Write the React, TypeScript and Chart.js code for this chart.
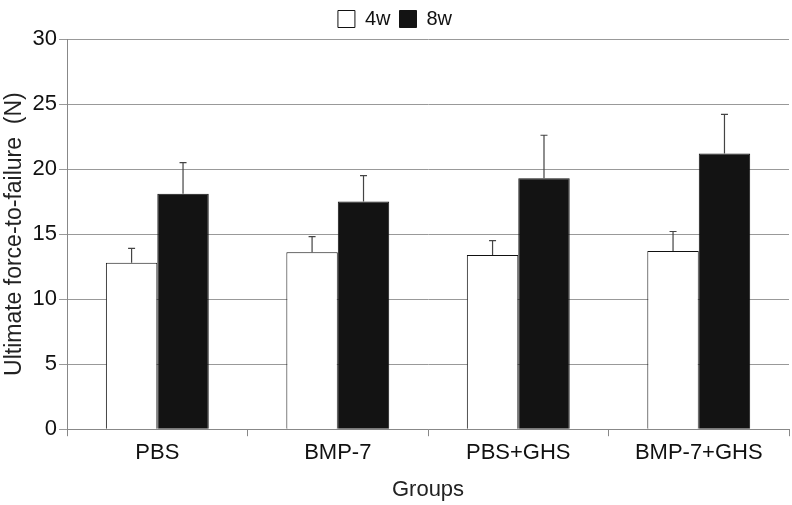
import React, { useEffect, useRef } from "react";
import { Chart, registerables } from "chart.js";

Chart.register(...registerables);

const categories = ["PBS", "BMP-7", "PBS+GHS", "BMP-7+GHS"];
const seriesNames = ["4w", "8w"];
const values4w = [12.8, 13.6, 13.4, 13.7];
const values8w = [18.1, 17.5, 19.3, 21.2];
const errors4w = [1.1, 1.2, 1.1, 1.5];
const errors8w = [2.4, 2.0, 3.3, 3.0];
const yTicks = [0, 5, 10, 15, 20, 25, 30];

const errorBarPlugin = {
  id: "errorBars",
  afterDatasetsDraw(chart: any) {
    const ctx = chart.ctx;
    const yScale = chart.scales.y;
    chart.data.datasets.forEach((ds: any, di: number) => {
      const meta = chart.getDatasetMeta(di);
      if (meta.hidden) return;
      meta.data.forEach((el: any, i: number) => {
        const v = ds.data[i];
        const e = ds.errors[i];
        const x = el.x;
        const y0 = yScale.getPixelForValue(v);
        const y1 = yScale.getPixelForValue(v + e);
        ctx.save();
        ctx.strokeStyle = "#444";
        ctx.lineWidth = 1.2;
        ctx.beginPath();
        ctx.moveTo(x, y0);
        ctx.lineTo(x, y1);
        ctx.moveTo(x - 3.5, y1);
        ctx.lineTo(x + 3.5, y1);
        ctx.stroke();
        ctx.restore();
      });
    });
  },
};

export default function App() {
  const ref = useRef<HTMLCanvasElement | null>(null);
  useEffect(() => {
    document.body.style.margin = "0";
    const font = "'Liberation Sans', Arial, sans-serif";
    const chart = new Chart(ref.current as HTMLCanvasElement, {
      type: "bar",
      data: {
        labels: categories,
        datasets: [
          {
            label: seriesNames[0],
            data: values4w,
            errors: errors4w,
            backgroundColor: "#ffffff",
            borderColor: "#111111",
            borderWidth: 1,
            categoryPercentage: 0.57,
            barPercentage: 1,
          } as any,
          {
            label: seriesNames[1],
            data: values8w,
            errors: errors8w,
            backgroundColor: "#131313",
            borderColor: "#131313",
            borderWidth: 1,
            categoryPercentage: 0.57,
            barPercentage: 1,
          } as any,
        ],
      },
      options: {
        animation: false,
        responsive: false,
        layout: { padding: { left: 1, right: 3, top: 0, bottom: 2 } },
        plugins: {
          legend: {
            display: true,
            position: "top",
            labels: {
              color: "#111",
              font: { family: font, size: 20 },
              boxWidth: 17,
              boxHeight: 17,
              padding: 9,
            },
          },
          tooltip: { enabled: false },
        },
        scales: {
          x: {
            grid: {
              display: true,
              offset: true,
              drawOnChartArea: false,
              drawTicks: true,
              tickLength: 7,
              color: "#888",
            },
            border: { color: "#888", width: 1 },
            ticks: { color: "#111", font: { family: font, size: 22 }, padding: 4 },
            title: {
              display: true,
              text: "Groups",
              color: "#222",
              font: { family: font, size: 22 },
              padding: { top: 6, bottom: 0 },
            },
          },
          y: {
            min: 0,
            max: 30,
            afterBuildTicks(axis: any) {
              axis.ticks = yTicks.map((v) => ({ value: v }));
            },
            grid: { color: "#999", tickLength: 8, lineWidth: 1 },
            border: { color: "#888", width: 1 },
            ticks: { color: "#111", font: { family: font, size: 22 }, padding: 2 },
            title: {
              display: true,
              text: "Ultimate force-to-failure  (N)",
              color: "#222",
              font: { family: font, size: 23 },
              padding: { top: 0, bottom: 2 },
            },
          },
        },
      },
      plugins: [errorBarPlugin],
    });
    return () => chart.destroy();
  }, []);
  return (
    <div style={{ width: 792, height: 505 }}>
      <canvas ref={ref} width={792} height={505} style={{ width: 792, height: 505 }} />
    </div>
  );
}
